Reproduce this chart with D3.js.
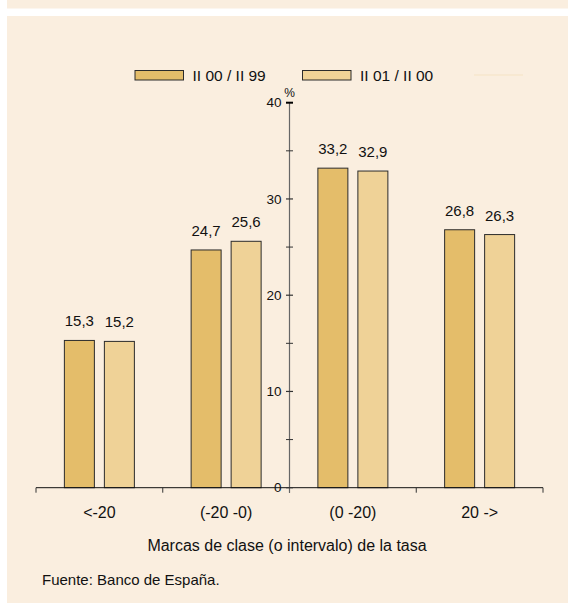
<!DOCTYPE html>
<meta charset="utf-8">
<style>
body { margin: 0; background: #fff; }
text { font-family: "Liberation Sans", Arial, Helvetica, sans-serif; fill: #111; }
</style>
<svg width="568" height="603"></svg>
<script src="https://d3js.org/d3.v7.min.js"></script>
<script>

var categories = ["<-20", "(-20 -0)", "(0 -20)", "20 ->"];
var seriesNames = ["II 00 / II 99", "II 01 / II 00"];
var serie1 = [15.3, 24.7, 33.2, 26.8];
var serie2 = [15.2, 25.6, 32.9, 26.3];
var yTicks = [0, 10, 20, 30, 40];
var yMinor = [5, 15, 25, 35];

var colors = ["#e4bd6a", "#efd297"];
var bg = "#faeedf";
var fmt = function(v) { return d3.format(".1f")(v).replace(".", ","); };

var svg = d3.select("svg");

// fondo
svg.append("rect").attr("x", 7).attr("y", 0).attr("width", 561).attr("height", 8.5).attr("fill", bg);
svg.append("rect").attr("x", 7).attr("y", 16).attr("width", 561).attr("height", 587).attr("fill", bg);

var x = d3.scaleBand()
    .domain(categories)
    .range([36, 543]);

var xs = d3.scaleBand()
    .domain([0, 1])
    .range([0, 70])
    .paddingInner(0.25);

var y = d3.scaleLinear()
    .domain([0, 40])
    .range([487.7, 102.7]);

var yAxisX = 289.5;

// barras
var data = [];
categories.forEach(function(c, i) {
  data.push({cat: c, s: 0, v: serie1[i]});
  data.push({cat: c, s: 1, v: serie2[i]});
});

var bars = svg.append("g").selectAll("g")
    .data(data)
  .enter().append("g");

bars.append("rect")
    .attr("x", function(d) { return x(d.cat) + x.bandwidth() / 2 - 35 + xs(d.s); })
    .attr("y", function(d) { return y(d.v); })
    .attr("width", xs.bandwidth())
    .attr("height", function(d) { return y(0) - y(d.v); })
    .attr("fill", function(d) { return colors[d.s]; })
    .attr("stroke", "#2b2b2b")
    .attr("stroke-width", 1);

bars.append("text")
    .attr("x", function(d) { return x(d.cat) + x.bandwidth() / 2 - 35 + xs(d.s) + xs.bandwidth() / 2; })
    .attr("y", function(d) { return y(d.v) - 14; })
    .attr("text-anchor", "middle")
    .style("font-size", "15px")
    .text(function(d) { return fmt(d.v); });

// eje x
var xAxis = svg.append("g");
xAxis.append("line")
    .attr("x1", 36).attr("x2", 543)
    .attr("y1", y(0)).attr("y2", y(0))
    .attr("stroke", "#111");
xAxis.selectAll(".tk")
    .data(d3.range(categories.length + 1))
  .enter().append("line")
    .attr("x1", function(i) { return 36 + i * x.step(); })
    .attr("x2", function(i) { return 36 + i * x.step(); })
    .attr("y1", y(0)).attr("y2", y(0) + 5)
    .attr("stroke", "#333");
xAxis.selectAll(".lbl")
    .data(categories)
  .enter().append("text")
    .attr("x", function(d) { return x(d) + x.bandwidth() / 2; })
    .attr("y", 518)
    .attr("text-anchor", "middle")
    .style("font-size", "16px")
    .text(function(d) { return d; });

// eje y
var yAxis = svg.append("g").attr("transform", "translate(" + yAxisX + ",0)");
yAxis.append("line")
    .attr("y1", y(40)).attr("y2", y(0) + 5)
    .attr("stroke", "#666").attr("stroke-width", 1.2);
yAxis.selectAll(".minor")
    .data(yMinor)
  .enter().append("line")
    .attr("x1", -3.5).attr("x2", 3.5)
    .attr("y1", function(d) { return y(d); })
    .attr("y2", function(d) { return y(d); })
    .attr("stroke", "#333");
yAxis.selectAll(".major")
    .data(yTicks)
  .enter().append("line")
    .attr("x1", -3.5).attr("x2", 3.5)
    .attr("y1", function(d) { return y(d); })
    .attr("y2", function(d) { return y(d); })
    .attr("stroke", function(d) { return d === 40 ? "#000" : "#333"; })
    .attr("stroke-width", function(d) { return d === 40 ? 2 : 1.2; });
yAxis.selectAll(".ylbl")
    .data(yTicks)
  .enter().append("text")
    .attr("x", -8)
    .attr("y", function(d) { return y(d); })
    .attr("dy", "0.35em")
    .attr("text-anchor", "end")
    .style("font-size", "13.5px")
    .text(function(d) { return d; });
yAxis.append("text")
    .attr("x", 0).attr("y", y(40) - 6)
    .attr("text-anchor", "middle")
    .style("font-size", "12px")
    .text("%");

// leyenda
var legendX = [135, 302.5];
var legend = svg.append("g").selectAll("g")
    .data(seriesNames)
  .enter().append("g")
    .attr("transform", function(d, i) { return "translate(" + legendX[i] + ",70.5)"; });
legend.append("rect")
    .attr("width", 48.5).attr("height", 9.5)
    .attr("fill", function(d, i) { return colors[i]; })
    .attr("stroke", "#2b2b2b");
legend.append("text")
    .attr("x", 57.5).attr("y", 10.5)
    .style("font-size", "15.5px")
    .text(function(d) { return d; });
svg.append("line")
    .attr("x1", 474).attr("x2", 523).attr("y1", 75).attr("y2", 75)
    .attr("stroke", "#f5e3c4");

// titulos
svg.append("text")
    .attr("x", 287).attr("y", 551)
    .attr("text-anchor", "middle")
    .style("font-size", "16px")
    .text("Marcas de clase (o intervalo) de la tasa");
svg.append("text")
    .attr("x", 42).attr("y", 585)
    .style("font-size", "15px")
    .text("Fuente: Banco de España.");

</script>
